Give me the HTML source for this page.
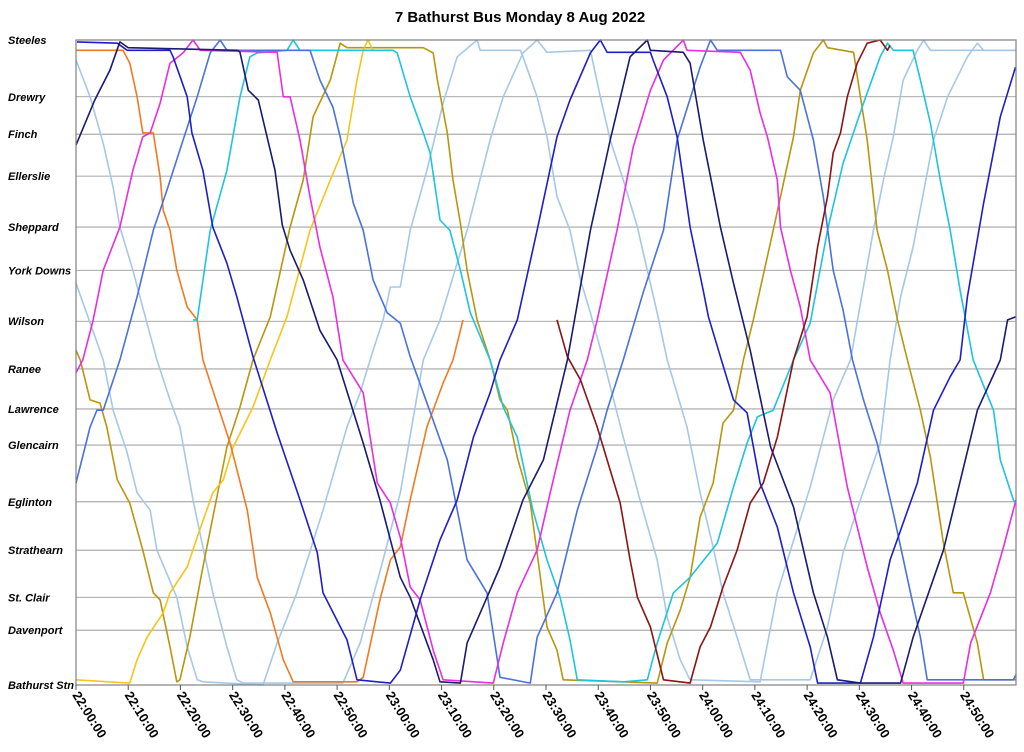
<!DOCTYPE html>
<html><head><meta charset="utf-8"><style>
html,body{margin:0;padding:0;background:#fff;}
svg{display:block;font-family:"Liberation Sans",Arial,sans-serif;}
</style></head><body>
<svg id="chart" width="1024" height="752" viewBox="0 0 1024 752" xmlns="http://www.w3.org/2000/svg">
<text x="520" y="22" text-anchor="middle" font-size="15" font-weight="bold">7 Bathurst Bus Monday 8 Aug 2022</text>
<g id="grid"></g><g id="series"></g><g id="axes"></g>
</svg>
<script>
const stopNames=["Steeles","Drewry","Finch","Ellerslie","Sheppard","York Downs","Wilson","Ranee","Lawrence","Glencairn","Eglinton","Strathearn","St. Clair","Davenport","Bathurst Stn"];
const stopPos=[100,91.2,85.4,78.9,71,64.3,56.4,49,42.8,37.2,28.4,20.9,13.6,8.5,0];
const tickLabels=["22:00:00","22:10:00","22:20:00","22:30:00","22:40:00","22:50:00","23:00:00","23:10:00","23:20:00","23:30:00","23:40:00","23:50:00","24:00:00","24:10:00","24:20:00","24:30:00","24:40:00","24:50:00"];
const tickMinutes=[0,10,20,30,40,50,60,70,80,90,100,110,120,130,140,150,160,170];
const busNavy=[[0,83.7],[3.6,90.7],[6.5,95.3],[8.4,99.7],[10,98.8],[31,98.4],[31.4,98.1],[33,92.2],[34.9,90.7],[38.1,79.8],[39.5,71.3],[41,67.4],[43.5,62.8],[46.7,55],[50,50.4],[55,37.5],[58.2,28.7],[60.2,22.5],[62.1,16.7],[64,13.6],[68.4,3.9],[69.7,0.5],[73.6,0.3],[74.9,6.5],[78.7,13.6],[81.2,18.3],[85.6,28.7],[89.5,34.9],[94.1,50.4],[98.5,70.5],[102.3,84.5],[106.1,97.4],[109.4,100],[110,98.4],[116.3,98.1],[117.6,96.4],[120.1,84.5],[121.5,78.8],[123.4,71],[125.9,62.3],[129.1,51.9],[133,36.9],[137.4,27.6],[141.2,14.3],[143.9,7.4],[145.8,0.8],[150.2,0.3],[157.9,0.3],[160.3,7.4],[166.1,20.9],[172.6,42.6],[177,50.4],[178.4,56.6],[180,57.1]];
const busBlue=[[0.2,99.7],[7.9,99.5],[9.8,98.4],[18,98.4],[18.6,97.4],[21.3,91.2],[22.2,85.6],[24.3,79.8],[26.2,71],[28.9,65.4],[30.8,60.2],[32,56.6],[33.9,50.9],[38.5,39.1],[42.9,28.7],[46.2,20.5],[47.3,14.3],[51.9,7],[53.8,0.8],[60.2,0.3],[62.1,2.3],[65.9,13.2],[69.7,22.5],[73,28.7],[76.1,38.4],[79.3,45.3],[81.2,50.4],[84.5,56.6],[88.3,70.5],[92.1,85],[94.6,90.7],[98.5,98],[100.4,100],[101.7,98.1],[110,98.1],[110.5,96.9],[113.2,91.2],[115.1,85],[117.6,71],[120.1,61.2],[121.1,57.1],[123.4,50.9],[125.9,44.2],[128.5,42.2],[131,31.3],[134.3,24.5],[137.4,14.3],[140.6,5.9],[142,0.3],[150.2,0.3],[152.7,7.4],[155.9,19.4],[161.1,31.3],[164.2,42.6],[167.4,47.8],[169.3,50.4],[170.7,60.2],[173.8,74.7],[177,88.1],[179.9,95.8]];
const busRoyal=[[0,31.3],[2.7,40],[4,42.6],[5.2,42.6],[8.4,50.4],[11.7,60.2],[14.8,70.5],[17.4,76.7],[20.5,84.5],[23.2,91.2],[25.7,98],[27.6,100],[28.9,98.4],[44.8,98.4],[46.7,93.8],[49.2,89.6],[50.6,85],[53.1,74.7],[55,70.5],[56.9,62.8],[59.6,57.7],[62.1,56.1],[64,50.9],[66.5,45.3],[71.1,34.9],[74.9,19.4],[78.7,14.3],[81.2,1.2],[87,0.3],[88.3,7.4],[92.1,14.3],[96,27.1],[99.8,36.9],[101.7,42.6],[104.8,50.4],[108.6,60.8],[112.5,70.5],[115.1,84.5],[119.5,95.8],[121.5,100],[122.8,98.4],[134.9,98.4],[136.2,94.3],[138.7,92.2],[141.2,84.5],[143.1,75.7],[145,64.3],[146.9,58.1],[148.7,50.4],[150.8,44.2],[153.4,37.5],[156.5,26.7],[159.8,14.3],[161.7,7.4],[163,0.8],[179.5,0.8],[180,1.6]];
const busLight1=[[0,62.3],[5.2,50.4],[7.1,42.6],[9.8,36],[11.7,29.8],[14.2,27.1],[15.5,20.9],[19.3,13.6],[21.3,5.9],[23.2,0.8],[24.3,0.5],[35.8,0],[38.5,6.5],[42.3,14.3],[47.3,27.1],[51.9,40],[54.4,45.3],[56.9,51.9],[58.8,56.6],[60.2,61.7],[62.1,61.7],[64,70.5],[67.2,79.8],[70.3,90.2],[73,97.4],[76.8,100],[77.4,98.4],[85.1,98.4],[85.6,97.4],[88.3,91.2],[90.2,85],[92.1,75.7],[94.6,70.5],[96.6,62.8],[98.5,57.7],[101,50.4],[104.8,38.4],[108,28.7],[111.3,19.4],[113.2,10.5],[115.7,3.9],[117.6,0.8],[131,0.5],[134.3,14.3],[140.6,30.7],[145,44.2],[148.3,50.4],[152.7,70.5],[154.6,78.3],[156.5,85],[158.4,93.8],[161.1,98.4],[162.3,100],[163.6,98.4],[180,98.4]];
const busLight2=[[0,96.9],[2.7,91.2],[5.2,84],[7.1,77.2],[8.4,71],[10.9,64.3],[13.6,56.1],[15.5,50.4],[18,44.2],[19.9,40],[22.4,28.7],[24.3,21.4],[26.2,14.3],[28.9,5.9],[30.8,0.8],[32,0.3],[51.1,0.3],[54.4,6.5],[58.8,19.4],[62.1,29.8],[66.5,50.4],[69.7,56.6],[74.9,70.5],[79.3,84.5],[81.8,91.2],[85.6,98],[88.3,100],[90.2,98.1],[98.5,98.4],[100.4,91.2],[102.3,84.5],[104.8,78.3],[107.5,71],[109.4,64.3],[111.3,57.7],[113.2,50.4],[117,40],[119.5,29.8],[122,21.4],[123.9,14.3],[126.6,7.4],[129.1,0.8],[140.6,0.8],[143.9,9],[146.9,20.5],[150.2,28.7],[154,37.5],[155.9,50.4],[157.9,60.2],[160.3,67.9],[163,79.4],[164.2,84.5],[166.9,91.2],[170.7,97.4],[172.6,99.5],[173.8,98.4],[180,98.4]];
const busCyan=[[22.4,56.6],[23.2,56.6],[25.7,70.5],[28.9,79.8],[31.4,91.2],[33.3,97.4],[34.7,98],[40.4,98.4],[41.6,100],[42.9,98.4],[60.7,98.4],[61.5,98],[64,91.2],[66.5,85.6],[67.8,82.5],[69.7,72.1],[71.6,70.5],[73.6,64.3],[75.5,57.7],[79.3,50.4],[81.8,43.1],[84.5,38.4],[87.5,27.1],[90.2,19.4],[92.7,13.6],[94.6,7],[96,0.8],[104.8,0.5],[109.4,0.8],[111.3,6.5],[114.4,14.3],[117.6,16.7],[122.8,22],[125.9,30.7],[128.5,37.5],[130.5,41.6],[133.5,42.6],[137.4,50.4],[140.6,56.1],[143.9,70.5],[146.9,80.9],[150.8,90.2],[154,97.4],[155.4,99.5],[156.5,98.4],[160.3,98.4],[161.7,93.8],[163.6,87.1],[165.5,78.3],[167.4,70.5],[169.3,61.2],[171.8,50.4],[175.7,42.6],[177,34.9],[179.5,28.7],[180,28.2]];
const busMagenta=[[0,48.4],[1.3,50.4],[3.3,56.6],[5.2,64.3],[8.4,71],[10.9,79.8],[12.8,85],[14.2,85.6],[16.1,90.2],[18,96.4],[20.5,98],[22.4,100],[23.8,98.4],[38.5,98.1],[39.7,91.2],[41,91.2],[42.9,84.5],[44.8,75.7],[46.7,67.9],[49.2,60.2],[51.1,50.4],[55,45.3],[57.7,31.3],[60.2,28.2],[62.1,22.9],[64,15.2],[65.9,13.2],[68.4,5.4],[70.3,0.8],[79.9,0.3],[81.8,6.5],[84.5,14.3],[88.3,20.9],[90.8,29.8],[94.6,42.6],[97.9,50.4],[99.8,56.6],[103.6,70.5],[106.7,83.4],[110,92.2],[112.5,96.9],[115.7,99.5],[116.3,100],[117,98.4],[127.2,98.1],[129.1,95.3],[131,88.7],[132.4,85],[134.3,78.3],[134.9,71],[136.8,64.3],[138.7,58.6],[140.6,50.4],[144.4,45.3],[147.7,30.7],[151.5,18.3],[154,11.2],[156.5,5.4],[158.4,0.3],[169.9,0.3],[171.3,6.5],[175.1,14.3],[177.6,21.4],[180,28.7]];
const busOrange=[[0,98.4],[9,98.4],[10.3,96.4],[11.7,91.2],[12.8,85.6],[14.8,85.6],[16.1,78.8],[16.7,73.6],[18,70.5],[19.3,64.3],[21.3,58.6],[23.2,56.6],[24.3,50.4],[27,43.7],[29.5,37.5],[32.8,27.1],[34.7,16.7],[37.2,11.2],[39.7,3.9],[41.6,0.5],[53.8,0.5],[55,1.2],[58.2,13.2],[60.2,19.4],[62.1,21.4],[64,28.7],[67.2,40],[70.3,46.8],[72.2,50.4],[74.1,56.6]];
const busYellow=[[0,0.8],[10.3,0.3],[11.7,3.9],[13.6,7.4],[16.7,11.2],[18,14.3],[21.3,18.3],[23.2,22.9],[26.2,29.8],[28.2,31.8],[30.1,36.9],[33.9,43.1],[37.2,50.4],[40.4,57.1],[44.8,70.5],[48.7,78.3],[51.9,84.5],[53.8,93.8],[55,98.4],[55.9,100],[56.9,98.4],[60.2,98.4]];
const busGold=[[0,51.9],[0.8,50.4],[2.7,44.2],[4.6,43.7],[5.9,40],[7.9,31.8],[10.3,28.2],[12.8,20.9],[14.8,14.3],[16.1,13.2],[18,5.9],[19.3,0.5],[19.9,0.8],[21.8,7.4],[24.3,18.3],[28.9,36.9],[31.4,43.1],[33.9,50.4],[37.2,57.1],[41,71],[43.5,78.3],[45.4,88.1],[48.7,93.8],[50.6,99.5],[51.9,98.8],[66.5,98.8],[68.4,98],[69.2,93.8],[71.1,85.6],[72.2,78.3],[73.6,71.6],[74.9,64.3],[76.8,56.6],[79.3,50.4],[81.2,44.2],[82.6,42.6],[84.5,35.3],[87,28.2],[88.3,20.5],[90.2,9],[92.1,5.4],[93.3,0.8],[111.3,0.3],[113.2,6.5],[115.7,11.6],[117.6,16.7],[119.5,26],[122,31.3],[123.9,40.6],[125.9,42.6],[127.8,50.4],[129.7,56.6],[133.5,70.5],[137.4,85],[138.7,92.2],[141.2,98],[143.1,100],[143.9,98.8],[148.9,98.1],[150.2,91.2],[151.5,84.5],[153.4,70.5],[155.4,64.3],[157.3,56.6],[159.2,50.4],[161.7,42.6],[163.6,35.3],[166.1,22],[168,14.3],[169.9,14.3],[172.6,6.5],[173.8,0.8],[180,0.8]];
const busRed=[[92.1,56.6],[94.1,50.9],[96.6,47.3],[99.8,40],[101.7,34.9],[104.2,28.2],[106.1,19.4],[107.5,13.6],[110,9],[112.5,0.8],[117.6,0.3],[119.5,5.9],[121.5,9],[123.9,15.2],[126.6,20.9],[129.1,28.2],[131.6,31.3],[134.3,38.4],[137.4,50.4],[140,57.1],[142,67.9],[143.9,75.7],[145,82.5],[146.4,85.6],[147.7,91.2],[149.6,96.4],[151.5,99.5],[154,100],[155.4,98.4],[155.9,99.2]];

const L=76,R=1016,T=40,B=685,XMAX=180;
const xs=t=>L+(R-L)*t/XMAX;
const ys=p=>B-(B-T)*p/100;
const NS="http://www.w3.org/2000/svg";
function mk(tag,attrs,parent){const e=document.createElementNS(NS,tag);for(const k in attrs)e.setAttribute(k,attrs[k]);parent.appendChild(e);return e;}
const grid=document.getElementById('grid'),axes=document.getElementById('axes'),ser=document.getElementById('series');
stopPos.forEach((p,i)=>{
  const g=mk('line',{x1:L,x2:R,y1:ys(p),y2:ys(p),stroke:'#8c8c8c','stroke-width':0.8},grid);
  
  
  const t=mk('text',{x:8,y:ys(p)+4,'font-size':11,'font-weight':'bold','font-style':'italic'},axes);
  t.textContent=stopNames[i];
  
  
});
const border=mk('rect',{x:L,y:T,width:R-L,height:B-T,fill:'none',stroke:'#808080','stroke-width':1.2},axes);


tickMinutes.forEach((m,i)=>{
  const x=xs(m);
  const tk=mk('line',{x1:x,x2:x,y1:B,y2:B+5,stroke:'#555','stroke-width':1},axes);
  
  
  const t=mk('text',{x:0,y:0,'font-size':13,'font-weight':'bold',transform:`translate(${x-4},${B+10}) rotate(58)`},axes);
  t.textContent=tickLabels[i];
  
  
});
const seriesList=[[busLight1,'#a6c8e8','light-blue'],[busLight2,'#a6c8e8','light-blue-2'],[busGold,'#b8960e','dark-gold'],[busYellow,'#f5c518','yellow'],[busOrange,'#f07a22','orange'],[busCyan,'#1ec4de','cyan'],[busRoyal,'#4a72dc','royal-blue'],[busMagenta,'#e82ee0','magenta'],[busRed,'#8a1414','dark-red'],[busBlue,'#1e1ec8','blue'],[busNavy,'#1a1a6e','navy']];
seriesList.forEach(([d,c,n])=>{
  const pl=mk('polyline',{points:d.map(q=>xs(q[0]).toFixed(1)+','+ys(q[1]).toFixed(1)).join(' '),fill:'none',stroke:c,'stroke-width':1.6,'stroke-linejoin':'round'},ser);
  
  
});
</script>
</body></html>
